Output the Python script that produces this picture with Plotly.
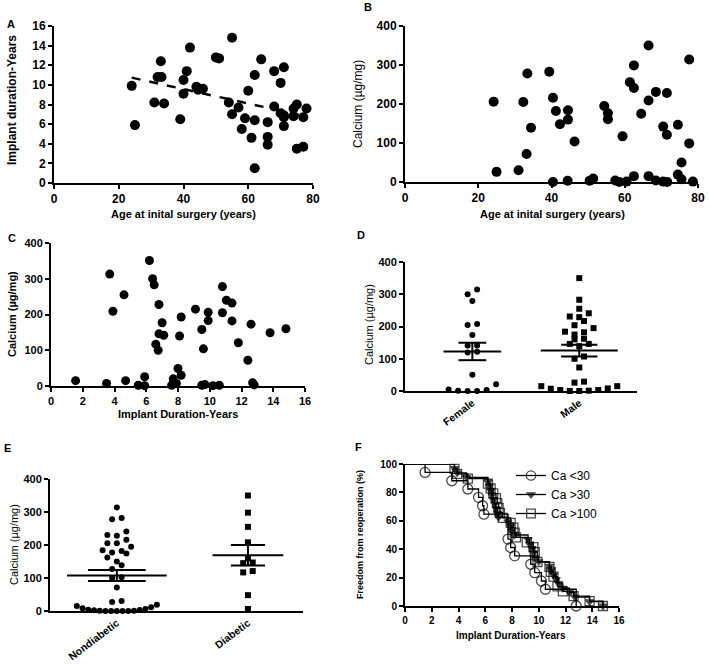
import numpy as np
import plotly.graph_objects as go

# ---- A: age vs implant duration
age_a = [24, 25, 31, 32, 33.2, 33, 34, 39, 40, 40, 41, 42, 44, 44.5, 46, 50, 51, 55, 54, 55,
         57, 58, 59, 60, 61, 62, 62, 62, 64, 66, 66, 66, 68, 68, 70, 71, 70, 71, 71, 71,
         74, 74, 75, 75, 77, 77, 78]
dur_a = [9.9, 5.9, 8.2, 10.8, 10.8, 12.4, 8.1, 6.5, 10.5, 9.1, 11.4, 13.8, 9.8, 9.5, 9.6, 12.8, 12.7, 14.8, 8.2, 7.0,
         7.7, 5.5, 6.6, 9.4, 4.6, 11.0, 6.4, 1.5, 12.6, 6.2, 4.7, 3.9, 11.4, 7.8, 10.2, 11.8, 7.1, 6.9, 6.7, 5.8,
         6.8, 7.6, 8.0, 3.5, 3.7, 6.7, 7.6]

# ---- B: age vs calcium
age_b = [24.2, 25, 31, 32.3, 33.4, 33.2, 34.4, 39.4, 40.4, 40.4, 41.2, 42.3, 44.5, 44.5, 44.4, 46.3,
         50.4, 51.4, 54.4, 55.4, 55.4, 57.4, 58.5, 59.4, 60.5, 61.4, 62.5, 62.5, 62.5, 64.5, 66.5,
         66.5, 66.5, 68.5, 68.5, 70.5, 71.5, 71.5, 70.5, 71.6, 74.5, 74.5, 75.5, 75.5, 77.6, 77.6, 78.6]
ca_b = [206, 26, 30, 205, 278, 72, 139, 283, 216, 0, 182, 148, 184, 160, 3, 104,
        3, 9, 195, 176, 161, 4, 0, 117, 1, 256, 299, 241, 15, 175, 350,
        209, 15, 231, 4, 142, 228, 121, 1, 0, 147, 19, 50, 7, 314, 99, 1]

# ---- C: implant duration vs calcium
dur_c = [1.55, 3.5, 3.7, 3.9, 4.6, 4.7, 5.5, 5.9, 5.9, 6.2, 6.4, 6.5, 6.6, 6.75, 6.8, 6.8, 7.0, 7.1,
         7.6, 7.7, 7.9, 8.0, 8.2, 8.2, 8.1, 9.1, 9.5, 9.6, 9.5, 9.7, 9.9, 9.9, 10.2, 10.6,
         10.8, 10.8, 11.05, 11.4, 11.4, 11.8, 12.4, 12.6, 12.7, 12.8, 13.8, 14.8]
ca_c = [15, 7, 313, 209, 255, 15, 2, 1, 26, 351, 300, 283, 117, 100, 228, 146, 177, 142,
        2, 20, 7, 49, 30, 193, 140, 215, 158, 104, 2, 4, 206, 183, 1, 2,
        278, 205, 240, 232, 182, 121, 72, 173, 9, 3, 149, 160]

# ---- D: sex
female = [315, 300, 279, 208, 205, 174, 141, 141, 119, 122, 50, 21, 5, 3, 1, 0, 0]
male = [350, 283, 255, 241, 231, 229, 217, 204, 195, 184, 182, 175, 162, 160, 146, 146, 139,
        107, 100, 73, 29, 26, 15, 15, 8, 7, 3, 3, 1, 0, 0]
sex_labels = ["Female", "Male"]

# ---- E: diabetes
nondiabetic = [314, 282, 278, 241, 230, 228, 216, 205, 205, 195, 184, 182, 177, 174, 162, 150,
               139, 127, 102, 100, 71, 30, 27, 19, 15, 11, 8, 6, 4, 3, 2, 1, 1, 0, 0, 0, 0, 0]
diabetic = [350, 298, 255, 208, 160, 147, 145, 121, 117, 48, 6]
diab_labels = ["Nondiabetic", "Diabetic"]

# ---- F: freedom from reoperation
t_lt30 = [0, 1.5, 3.5, 4.7, 5.5, 5.8, 5.9, 7.7, 7.9, 8.2, 9.4, 9.7, 10.2, 10.5, 12.8]
s_lt30 = [100, 94.1, 88.2, 82.4, 76.5, 70.6, 64.7, 47.1, 41.2, 35.3, 29.4, 23.5, 17.6, 11.8, 0]
t_gt30 = [0, 3.7, 3.9, 4.6, 6.2, 6.3, 6.4, 6.5, 6.6, 6.7, 6.8, 6.9, 7.0, 7.7, 7.9, 8.0, 8.2,
          9.2, 9.3, 9.5, 9.6, 9.7, 10.0, 10.8, 10.9, 11.1, 11.3, 11.5, 11.8, 12.3, 12.7, 13.8, 14.8]
s_gt30 = [100, 96.9, 93.8, 90.6, 87.5, 84.4, 81.3, 78.1, 75.0, 71.9, 68.8, 65.6, 62.5, 59.4, 56.3, 53.1, 50.0,
          46.9, 43.8, 40.6, 37.5, 34.4, 31.3, 28.1, 25.0, 21.9, 18.8, 15.6, 12.5, 9.4, 6.3, 3.1, 0]
t_gt100 = [0, 3.7, 3.9, 4.7, 6.2, 6.4, 6.6, 6.8, 6.9, 7.0, 7.1, 7.3, 7.9, 8.1, 8.2, 8.3,
           9.1, 9.6, 9.7, 9.9, 10.8, 10.9, 11.1, 11.4, 11.8, 12.6, 13.8, 14.8]
s_gt100 = [100, 96.6, 93.1, 89.7, 86.2, 82.8, 79.3, 75.9, 72.4, 69.0, 65.5, 62.1, 58.6, 55.2, 51.7, 48.3,
           44.8, 41.4, 37.9, 31.0, 27.6, 24.1, 20.7, 13.8, 10.3, 6.9, 3.4, 0]

FONT = "Arial, Liberation Sans, sans-serif"
W, H = 709, 664


def dom_x(a, b):
    return [a / W, b / W]


def dom_y(top, bottom):
    return [1 - bottom / H, 1 - top / H]


def spread(vals, center, px_x, bin_w=25, step=9.5, max_w=80):
    # bin the values and fan each bin out sideways, lowest value in the middle
    bins = {}
    for i, v in enumerate(vals):
        bins.setdefault(int(v // bin_w), []).append(i)
    xs = [center] * len(vals)
    for idx in bins.values():
        n = len(idx)
        sp = step if n < 2 else min(step, max_w / (n - 1))
        slots = sorted([j - (n - 1) / 2 for j in range(n)], key=lambda s: (abs(s), s))
        for s, i in zip(slots, sorted(idx, key=lambda i: vals[i])):
            xs[i] = center + s * sp / px_x
    return xs


fig = go.Figure()
blk = "black"

# A
fig.add_trace(go.Scatter(x=age_a, y=dur_a, mode="markers", xaxis="x", yaxis="y",
                         marker=dict(color=blk, size=10), cliponaxis=False))
k, b = np.polyfit(age_a, dur_a, 1)
fx = np.array([min(age_a), max(age_a)])
fig.add_trace(go.Scatter(x=fx, y=k * fx + b, mode="lines", xaxis="x", yaxis="y",
                         line=dict(color=blk, width=2.5, dash="dash")))

# B
fig.add_trace(go.Scatter(x=age_b, y=ca_b, mode="markers", xaxis="x2", yaxis="y2",
                         marker=dict(color=blk, size=10), cliponaxis=False))
# C
fig.add_trace(go.Scatter(x=dur_c, y=ca_c, mode="markers", xaxis="x3", yaxis="y3",
                         marker=dict(color=blk, size=9), cliponaxis=False))


def dot_group(vals, center, pxx, symbol, size, xa, ya, half_mean, half_cap):
    xs = spread(vals, center, pxx)
    fig.add_trace(go.Scatter(x=xs, y=vals, mode="markers", xaxis=xa, yaxis=ya,
                             marker=dict(color=blk, size=size, symbol=symbol), cliponaxis=False))
    m = np.mean(vals)
    se = np.std(vals, ddof=1) / np.sqrt(len(vals))
    for yy, hw in [(m, half_mean), (m - se, half_cap), (m + se, half_cap)]:
        fig.add_trace(go.Scatter(x=[center - hw, center + hw], y=[yy, yy], mode="lines",
                                 xaxis=xa, yaxis=ya, line=dict(color=blk, width=2)))
    fig.add_trace(go.Scatter(x=[center, center], y=[m - se, m + se], mode="lines",
                             xaxis=xa, yaxis=ya, line=dict(color=blk, width=2)))


# D
dot_group(female, 0, 107, "circle", 6, "x4", "y4", 0.27, 0.13)
dot_group(male, 1, 107, "square", 6, "x4", "y4", 0.36, 0.17)
# E
dot_group(nondiabetic, 0, 131, "circle", 6, "x5", "y5", 0.38, 0.22)
dot_group(diabetic, 1, 131, "square", 6, "x5", "y5", 0.27, 0.13)

# F
for t, s, name, sym, sz in [(t_lt30, s_lt30, "Ca <30", "circle-open", 10),
                            (t_gt30, s_gt30, "Ca >30", "triangle-down", 7),
                            (t_gt100, s_gt100, "Ca >100", "square-open", 9)]:
    sizes = [0] + [sz] * (len(t) - 1)
    fig.add_trace(go.Scatter(x=t, y=s, mode="lines+markers", name=name, xaxis="x6", yaxis="y6",
                             line=dict(color=blk, width=1.3, shape="hv"),
                             marker=dict(color=blk, size=sizes, symbol=sym, line=dict(color=blk, width=1.3)),
                             cliponaxis=False, showlegend=True))


def axis(domain, rng, dtick=None, size=12, anchor=None, tickvals=None, ticktext=None, angle=None):
    d = dict(domain=domain, range=rng, showgrid=False, zeroline=False, showline=True,
             linecolor=blk, linewidth=2, ticks="outside", ticklen=4, tickwidth=1.5, tickcolor=blk,
             tickfont=dict(family=FONT, size=size, color=blk, weight="bold"), anchor=anchor,
             fixedrange=True, automargin=False)
    if dtick is not None:
        d["dtick"] = dtick
        d["tick0"] = 0
    if tickvals is not None:
        d.update(tickmode="array", tickvals=tickvals, ticktext=ticktext, ticks="", tickangle=angle)
    return d


layout_axes = dict(
    xaxis=axis(dom_x(54, 313), [0, 80], 20, 12, "y"),
    yaxis=axis(dom_y(26, 183), [0, 16], 2, 12, "x"),
    xaxis2=axis(dom_x(405, 698), [0, 80], 20, 12, "y2"),
    yaxis2=axis(dom_y(26, 182), [0, 400], 100, 12, "x2"),
    xaxis3=axis(dom_x(51, 305), [0, 16], 2, 11, "y3"),
    yaxis3=axis(dom_y(243, 386), [0, 400], 100, 11, "x3"),
    xaxis4=axis(dom_x(405, 637), [-0.63, 1.54], size=10.5, anchor="y4", tickvals=[0, 1],
                ticktext=sex_labels, angle=-37),
    yaxis4=axis(dom_y(262, 391), [0, 400], 100, 11, "x4"),
    xaxis5=axis(dom_x(50, 303), [-0.51, 1.42], size=10.5, anchor="y5", tickvals=[0, 1],
                ticktext=diab_labels, angle=-37),
    yaxis5=axis(dom_y(479, 611), [0, 400], 100, 11, "x5"),
    xaxis6=axis(dom_x(405, 619), [0, 16], 2, 10, "y6"),
    yaxis6=axis(dom_y(464, 606), [0, 100], 20, 10, "x6"),
)


def note(text, x, y, size=12, bold=True, angle=0):
    return dict(text=text, x=x / W, y=1 - y / H, xref="paper", yref="paper", showarrow=False,
                textangle=angle, xanchor="center", yanchor="middle",
                font=dict(family=FONT, size=size, color=blk, weight="bold" if bold else "normal"))


annotations = [
    note("A", 11, 24, 11), note("B", 368, 7, 11), note("C", 12, 238, 11),
    note("D", 361, 235, 11), note("E", 7, 448, 11), note("F", 358, 447, 11),
    note("Age at inital surgery (years)", 183, 214, 11),
    note("Age at inital surgery (years)", 552, 214, 11),
    note("Implant Duration-Years", 178, 414, 11),
    note("Implant Duration-Years", 511, 635, 10),
    note("Implant duration-Years", 12, 100, 12, True, -90),
    note("Calcium (µg/mg)", 358, 104, 12, False, -90),
    note("Calcium (µg/mg)", 12, 314, 11, True, -90),
    note("Calcium (µg/mg)", 369, 325, 11, False, -90),
    note("Calcium (µg/mg)", 14, 545, 11, False, -90),
    note("Freedom from reoperation (%)", 360, 535, 9, True, -90),
]

fig.update_layout(
    width=W, height=H, margin=dict(l=0, r=0, t=0, b=0),
    plot_bgcolor="white", paper_bgcolor="white", showlegend=True,
    legend=dict(x=511 / W, y=1 - 461 / H, xanchor="left", yanchor="top",
                font=dict(family=FONT, size=12, color=blk), bgcolor="rgba(0,0,0,0)",
                tracegroupgap=2, itemwidth=30),
    annotations=annotations,
    **layout_axes,
)
for tr in fig.data:
    if tr.name is None:
        tr.showlegend = False

# page body has a default 8px margin; drop it so the figure sits at the window corner
fig.write_html("out.html", post_script="document.body.style.margin='0';",
               config={"displayModeBar": False})
